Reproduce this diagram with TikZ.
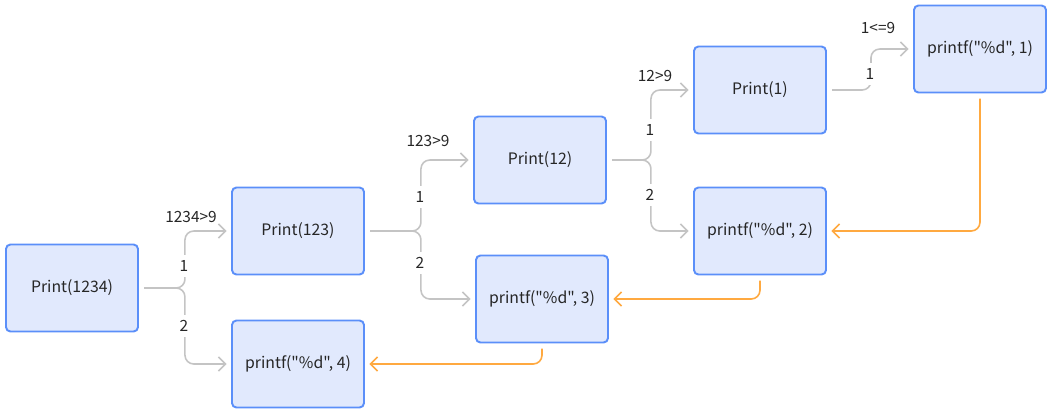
\documentclass[tikz,border=0pt]{standalone}
\usepackage{fontspec}
\setmainfont{Noto Sans CJK SC}[Ligatures=TeXOff]
\usetikzlibrary{calc, arrows.meta}

\definecolor{bleu}{HTML}{5B8FF9}
\definecolor{fond}{HTML}{E1E9FD}
\definecolor{gris}{HTML}{C4C4C4}
\definecolor{retourcol}{HTML}{FFA940}
\definecolor{encre}{HTML}{262626}

\tikzset{
  boite/.style={draw=bleu, fill=fond, line width=1.1pt, rounded corners=2.5pt,
    minimum width=2.64cm, minimum height=1.74cm, text=encre,
    font=\fontsize{9}{11}\selectfont},
  appel/.style={draw=gris, line width=0.9pt, rounded corners=5pt,
    -{Straight Barb[length=4pt, width=8pt]}, shorten <=3pt, shorten >=2.5pt},
  retour/.style={draw=retourcol, line width=0.9pt, rounded corners=5pt,
    -{Straight Barb[length=4pt, width=8pt]}, shorten <=3pt, shorten >=2.5pt},
  etiq/.style={fill=white, text=encre, inner xsep=1pt, inner ysep=3pt,
    font=\fontsize{8.8}{10}\selectfont},
  cond/.style={text=encre, inner sep=1pt, font=\fontsize{8.8}{10}\selectfont}
}

\begin{document}
\begin{tikzpicture}[x=0.02cm, y=-0.02cm]
  \useasboundingbox (0,0) rectangle (1049,414);

  % les appels
  \foreach \nom/\x/\y/\texte in {p1234/72/288/{Print(1234)}, p123/298/231/{Print(123)},
      p12/540/160/{Print(12)}, p1/760/90/{Print(1)},
      f1/980/49/{printf("\%d", 1)}, f2/760/231/{printf("\%d", 2)},
      f3/542/299/{printf("\%d", 3)}, f4/298/364/{printf("\%d", 4)}} {
    \node[boite] (\nom) at (\x,\y) {\texte};
  }

  % branches
  \foreach \pere/\un/\deux/\dx/\bx/\texte/\cx/\cy/\uy/\dy in {
      p1234/p123/f4/46/184/{1234>9}/191/217/266/326,
      p123/p12/f3/56/420/{123>9}/428/141/197/263,
      p12/p1/f2/44/650/{12>9}/655/76/130/195} {
    \draw[appel] (\pere.east) -- ++(\dx,0) |- (\un.west);
    \draw[appel] (\pere.east) -- ++(\dx,0) |- (\deux.west);
    \node[cond] (c\pere) at (\cx,\cy) {\texte};
    \node[etiq] (u\pere) at (\bx,\uy) {1};
    \node[etiq] (d\pere) at (\bx,\dy) {2};
  }

  \draw[appel] (p1.east) -- ++(44,0) |- (f1.west);
  \node[cond] (cp1) at (878,28) {1<=9};
  \node[etiq] (up1) at (870,74) {1};

  % retours
  \draw[retour] (f1.south) |- (f2.east);
  \draw[retour] (f2.south) |- (f3.east);
  \draw[retour] (f3.south) |- (f4.east);
\end{tikzpicture}
\end{document}
